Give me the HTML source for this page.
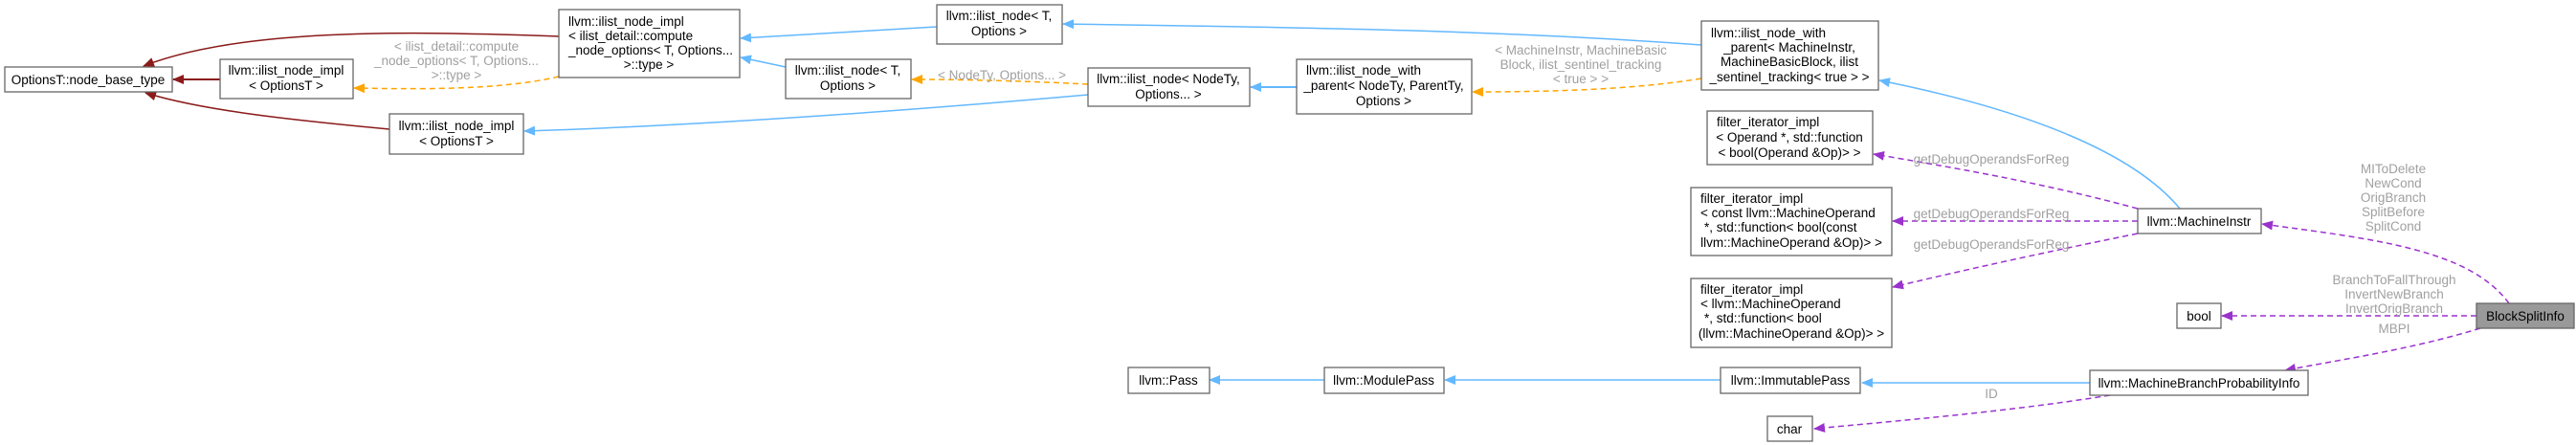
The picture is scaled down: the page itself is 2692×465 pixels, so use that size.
<!DOCTYPE html>
<html><head><meta charset="utf-8"><style>
html,body{margin:0;padding:0;background:#fff}
svg{display:block}
text{font-family:"Liberation Sans",Helvetica,sans-serif;font-size:13.5px}
.n{fill:#fff;stroke:#666;stroke-width:1.3}
.l{fill:#a0a0a0}
</style></head><body>
<svg width="2692" height="465" viewBox="0 0 2692 465" xmlns="http://www.w3.org/2000/svg">
<defs>
<marker id="mb" markerWidth="12" markerHeight="10" refX="11" refY="5" orient="auto" markerUnits="userSpaceOnUse"><path d="M0,0 L12,5 L0,10 z" fill="#63b8ff"/></marker>
<marker id="mr" markerWidth="12" markerHeight="10" refX="11" refY="5" orient="auto" markerUnits="userSpaceOnUse"><path d="M0,0 L12,5 L0,10 z" fill="#8b1a1a"/></marker>
<marker id="mo" markerWidth="12" markerHeight="10" refX="11" refY="5" orient="auto" markerUnits="userSpaceOnUse"><path d="M0,0 L12,5 L0,10 z" fill="#ffa500"/></marker>
<marker id="mp" markerWidth="12" markerHeight="10" refX="11" refY="5" orient="auto" markerUnits="userSpaceOnUse"><path d="M0,0 L12,5 L0,10 z" fill="#9a32cd"/></marker>
</defs>
<g fill="none" stroke-width="1.5">
<path d="M584,38 C420,32 250,30 150,69" stroke="#8b1a1a" marker-end="url(#mr)"/>
<path d="M230,83 L181,83" stroke="#8b1a1a" stroke-width="2" marker-end="url(#mr)"/>
<path d="M407,135 C300,125 210,115 152,97" stroke="#8b1a1a" marker-end="url(#mr)"/>
<path d="M584,80 C520,95 430,93 370,92" stroke="#ffa500" stroke-dasharray="6,4" marker-end="url(#mo)"/>
<path d="M979,28 L774,40" stroke="#63b8ff" marker-end="url(#mb)"/>
<path d="M821,70 L774,60" stroke="#63b8ff" marker-end="url(#mb)"/>
<path d="M1137,88 C1060,84 1000,83 953,83" stroke="#ffa500" stroke-dasharray="6,4" marker-end="url(#mo)"/>
<path d="M1137,99 C900,120 700,132 548,137" stroke="#63b8ff" marker-end="url(#mb)"/>
<path d="M1355,91 L1307,91" stroke="#63b8ff" stroke-width="2" marker-end="url(#mb)"/>
<path d="M1778,82 C1700,95 1600,96 1539,96" stroke="#ffa500" stroke-dasharray="6,4" marker-end="url(#mo)"/>
<path d="M1778,47 C1550,30 1300,28 1111,25" stroke="#63b8ff" marker-end="url(#mb)"/>
<path d="M2278,218 C2230,160 2120,115 1964,84" stroke="#63b8ff" marker-end="url(#mb)"/>
<path d="M2234,218 C2130,190 2040,175 1958,161" stroke="#9a32cd" stroke-dasharray="6,4" marker-end="url(#mp)"/>
<path d="M2234,231 L1978,231" stroke="#9a32cd" stroke-dasharray="6,4" marker-end="url(#mp)"/>
<path d="M2234,244 C2130,265 2040,285 1978,300" stroke="#9a32cd" stroke-dasharray="6,4" marker-end="url(#mp)"/>
<path d="M2622,317 C2580,260 2480,250 2364,234" stroke="#9a32cd" stroke-dasharray="6,4" marker-end="url(#mp)"/>
<path d="M2588,330 L2322,330" stroke="#9a32cd" stroke-dasharray="6,4" marker-end="url(#mp)"/>
<path d="M2592,343 C2520,365 2450,375 2388,387" stroke="#9a32cd" stroke-dasharray="6,4" marker-end="url(#mp)"/>
<path d="M2184,400 L1946,400" stroke="#63b8ff" marker-end="url(#mb)"/>
<path d="M1798,397 L1510,397" stroke="#63b8ff" marker-end="url(#mb)"/>
<path d="M1384,397 L1264,397" stroke="#63b8ff" marker-end="url(#mb)"/>
<path d="M2205,413 C2100,430 1980,440 1896,448" stroke="#9a32cd" stroke-dasharray="6,4" marker-end="url(#mp)"/>
</g>
<!-- nodes -->
<rect class="n" x="5" y="70" width="175" height="26"/>
<text x="92" y="88" text-anchor="middle">OptionsT::node_base_type</text>
<rect class="n" x="230" y="62" width="139" height="41"/>
<text x="299" y="78" text-anchor="middle">llvm::ilist_node_impl</text>
<text x="299" y="94" text-anchor="middle">&lt; OptionsT &gt;</text>
<rect class="n" x="584" y="10" width="189" height="71"/>
<text x="594" y="27">llvm::ilist_node_impl</text>
<text x="594" y="42">&lt; ilist_detail::compute</text>
<text x="594" y="57">_node_options&lt; T, Options...</text>
<text x="678" y="72" text-anchor="middle">&gt;::type &gt;</text>
<rect class="n" x="407" y="119" width="140" height="42"/>
<text x="477" y="136" text-anchor="middle">llvm::ilist_node_impl</text>
<text x="477" y="152" text-anchor="middle">&lt; OptionsT &gt;</text>
<rect class="n" x="821" y="62" width="131" height="41"/>
<text x="886" y="78" text-anchor="middle">llvm::ilist_node&lt; T,</text>
<text x="886" y="94" text-anchor="middle">Options &gt;</text>
<rect class="n" x="979" y="5" width="131" height="41"/>
<text x="1044" y="21" text-anchor="middle">llvm::ilist_node&lt; T,</text>
<text x="1044" y="37" text-anchor="middle">Options &gt;</text>
<rect class="n" x="1137" y="71" width="169" height="40"/>
<text x="1221" y="87" text-anchor="middle">llvm::ilist_node&lt; NodeTy,</text>
<text x="1221" y="103" text-anchor="middle">Options... &gt;</text>
<rect class="n" x="1355" y="62" width="183" height="57"/>
<text x="1365" y="78">llvm::ilist_node_with</text>
<text x="1446" y="94" text-anchor="middle">_parent&lt; NodeTy, ParentTy,</text>
<text x="1446" y="110" text-anchor="middle">Options &gt;</text>
<rect class="n" x="1778" y="22" width="185" height="72"/>
<text x="1788" y="39">llvm::ilist_node_with</text>
<text x="1870" y="54" text-anchor="middle">_parent&lt; MachineInstr,</text>
<text x="1870" y="69" text-anchor="middle">MachineBasicBlock, ilist</text>
<text x="1870" y="85" text-anchor="middle">_sentinel_tracking&lt; true &gt; &gt;</text>
<rect class="n" x="1784" y="116" width="173" height="56"/>
<text x="1794" y="132">filter_iterator_impl</text>
<text x="1870" y="148" text-anchor="middle">&lt; Operand *, std::function</text>
<text x="1870" y="164" text-anchor="middle">&lt; bool(Operand &amp;Op)&gt; &gt;</text>
<rect class="n" x="1767" y="196" width="210" height="71"/>
<text x="1777" y="212">filter_iterator_impl</text>
<text x="1777" y="227">&lt; const llvm::MachineOperand</text>
<text x="1781" y="242"> *, std::function&lt; bool(const</text>
<text x="1872" y="258" text-anchor="middle">llvm::MachineOperand &amp;Op)&gt; &gt;</text>
<rect class="n" x="1767" y="291" width="210" height="72"/>
<text x="1777" y="307">filter_iterator_impl</text>
<text x="1777" y="322">&lt; llvm::MachineOperand</text>
<text x="1781" y="337"> *, std::function&lt; bool</text>
<text x="1872" y="353" text-anchor="middle">(llvm::MachineOperand &amp;Op)&gt; &gt;</text>
<rect class="n" x="2234" y="218" width="129" height="26"/>
<text x="2298" y="236" text-anchor="middle">llvm::MachineInstr</text>
<rect class="n" x="2275" y="317" width="46" height="26"/>
<text x="2298" y="335" text-anchor="middle">bool</text>
<rect x="2588" y="317" width="102" height="26" fill="#999" stroke="#666" stroke-width="1.3"/>
<text x="2639" y="335" text-anchor="middle">BlockSplitInfo</text>
<rect class="n" x="2184" y="387" width="228" height="26"/>
<text x="2298" y="405" text-anchor="middle">llvm::MachineBranchProbabilityInfo</text>
<rect class="n" x="1798" y="384" width="146" height="27"/>
<text x="1871" y="402" text-anchor="middle">llvm::ImmutablePass</text>
<rect class="n" x="1384" y="384" width="125" height="27"/>
<text x="1446" y="402" text-anchor="middle">llvm::ModulePass</text>
<rect class="n" x="1179" y="384" width="85" height="27"/>
<text x="1221" y="402" text-anchor="middle">llvm::Pass</text>
<rect class="n" x="1847" y="435" width="47" height="26"/>
<text x="1870" y="453" text-anchor="middle">char</text>
<!-- labels -->
<g class="l" text-anchor="middle">
<text x="477" y="53">&lt; ilist_detail::compute</text>
<text x="477" y="68">_node_options&lt; T, Options...</text>
<text x="477" y="83">&gt;::type &gt;</text>
<text x="1047" y="83">&lt; NodeTy, Options... &gt;</text>
<text x="1652" y="57">&lt; MachineInstr, MachineBasic</text>
<text x="1652" y="72">Block, ilist_sentinel_tracking</text>
<text x="1652" y="87">&lt; true &gt; &gt;</text>
<text x="2081" y="171">getDebugOperandsForReg</text>
<text x="2081" y="228">getDebugOperandsForReg</text>
<text x="2081" y="260">getDebugOperandsForReg</text>
<text x="2501" y="181">MIToDelete</text>
<text x="2501" y="196">NewCond</text>
<text x="2501" y="211">OrigBranch</text>
<text x="2501" y="226">SplitBefore</text>
<text x="2501" y="241">SplitCond</text>
<text x="2502" y="297">BranchToFallThrough</text>
<text x="2502" y="312">InvertNewBranch</text>
<text x="2502" y="327">InvertOrigBranch</text>
<text x="2502" y="348">MBPI</text>
<text x="2081" y="416">ID</text>
</g>
</svg>
</body></html>
